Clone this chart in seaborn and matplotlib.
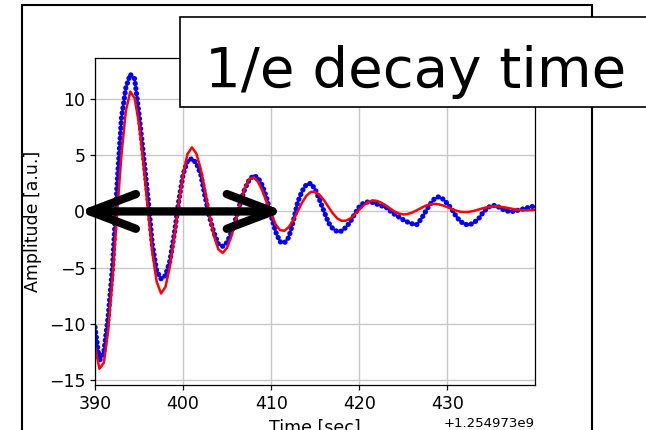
import numpy as np
import pandas as pd
import seaborn as sns
import matplotlib.pyplot as plt
from matplotlib.patches import Rectangle

# time axis: unix seconds, matplotlib shows the offset as +1.254973e9
T0 = 1254973000
t_rel = [390.0, 390.5, 391.0, 391.5, 392.0, 392.5, 393.0, 393.5, 394.0, 394.5,
         395.0, 395.5, 396.0, 396.5, 397.0, 397.5, 398.0, 398.5, 399.0, 399.5,
         400.0, 400.5, 401.0, 401.5, 402.0, 402.5, 403.0, 403.5, 404.0, 404.5,
         405.0, 405.5, 406.0, 406.5, 407.0, 407.5, 408.0, 408.5, 409.0, 409.5,
         410.0, 410.5, 411.0, 411.5, 412.0, 412.5, 413.0, 413.5, 414.0, 414.5,
         415.0, 415.5, 416.0, 416.5, 417.0, 417.5, 418.0, 418.5, 419.0, 419.5,
         420.0, 420.5, 421.0, 421.5, 422.0, 422.5, 423.0, 423.5, 424.0, 424.5,
         425.0, 425.5, 426.0, 426.5, 427.0, 427.5, 428.0, 428.5, 429.0, 429.5,
         430.0, 430.5, 431.0, 431.5, 432.0, 432.5, 433.0, 433.5, 434.0, 434.5,
         435.0, 435.5, 436.0, 436.5, 437.0, 437.5, 438.0, 438.5, 439.0, 439.5,
         440.0]

# measured amplitude (blue dots)
amp_meas = [-10.3, -13.3, -12.5, -9.3, -4.8, 2.3, 8.3, 11.0, 12.2, 11.8,
            8.6, 5.0, 1.3, -2.9, -5.3, -6.0, -5.7, -4.4, -2.0, 0.9,
            3.3, 4.5, 4.7, 4.3, 3.3, 1.3, -0.5, -1.9, -2.9, -3.1,
            -2.75, -1.8, -0.6, 0.8, 2.0, 2.8, 3.2, 3.0, 2.3, 1.15,
            -0.4, -1.8, -2.7, -2.8, -2.3, -0.9, 0.8, 1.8, 2.4, 2.5,
            1.95, 1.0, 0.0, -1.0, -1.55, -1.8, -1.75, -1.4, -0.9, -0.2,
            0.4, 0.75, 0.85, 0.8, 0.65, 0.5, 0.4, 0.05, -0.25, -0.5,
            -0.75, -0.95, -1.1, -1.2, -0.7, -0.05, 0.6, 1.1, 1.3, 1.1,
            0.7, 0.2, -0.45, -0.9, -1.15, -1.2, -1.0, -0.7, -0.15, 0.3,
            0.5, 0.55, 0.3, 0.1, 0.0, 0.0, 0.1, 0.2, 0.3, 0.45,
            0.4]

# damped oscillation fit (red line)
amp_fit = [-12.0, -14.0, -13.47, -10.55, -5.82, -0.22, 5.05, 8.95, 10.66, 10.08,
           7.77, 4.21, 0.15, -3.60, -6.26, -7.30, -6.71, -4.91, -2.27, 0.67,
           3.31, 5.11, 5.70, 5.16, 3.77, 1.81, -0.31, -2.17, -3.37, -3.69,
           -3.22, -2.16, -0.73, 0.79, 2.09, 2.88, 3.03, 2.64, 1.84, 0.80,
           -0.27, -1.15, -1.67, -1.72, -1.39, -0.78, 0.00, 0.78, 1.40, 1.74,
           1.74, 1.47, 0.99, 0.40, -0.18, -0.62, -0.84, -0.82, -0.61, -0.26,
           0.15, 0.55, 0.84, 0.98, 0.94, 0.78, 0.54, 0.26, 0.00, -0.19,
           -0.27, -0.23, -0.10, 0.09, 0.30, 0.50, 0.63, 0.68, 0.64, 0.53,
           0.38, 0.21, 0.07, -0.03, -0.06, -0.03, 0.05, 0.16, 0.28, 0.37,
           0.44, 0.45, 0.42, 0.36, 0.29, 0.21, 0.15, 0.11, 0.10, 0.12,
           0.15]

df = pd.DataFrame({
    "Time [sec]": T0 + np.array(t_rel),
    "meas": amp_meas,
    "fit": amp_fit,
})

sns.set_style("ticks")
plt.rcParams["font.family"] = ["DejaVu Sans"]
plt.rcParams.update({"text.color": "black", "axes.labelcolor": "black",
                     "xtick.color": "black", "ytick.color": "black"})

fig = plt.figure(figsize=(6.46, 4.30), dpi=100)
ax = fig.add_axes([0.1471, 0.1047, 0.6811, 0.7612])

sns.lineplot(data=df, x="Time [sec]", y="meas", color="blue", lw=1.2,
             estimator=None, sort=False, ax=ax)
sns.lineplot(data=df, x="Time [sec]", y="meas", color="blue", lw=3.8,
             linestyle=(0, (0.01, 0.95)), dash_capstyle="round",
             estimator=None, sort=False, ax=ax)
sns.lineplot(data=df, x="Time [sec]", y="fit", color="red", lw=1.8,
             estimator=None, sort=False, ax=ax)

ax.set_xlim(T0 + 390, T0 + 439.95)
ax.set_ylim(-15.44, 13.68)
ax.set_yticks([-15, -10, -5, 0, 5, 10])
ax.grid(True, color="#c8c8c8", lw=1.0)
for s in ax.spines.values():
    s.set_color("black")
    s.set_linewidth(0.9)
ax.tick_params(labelsize=12.5, color="black", length=3.5, width=0.9)
ax.xaxis.get_offset_text().set_fontsize(9.5)
ax.set_xlabel("Time [sec]", fontsize=12.5)
ax.set_ylabel("Amplitude [a.u.]", fontsize=12.5, labelpad=5)

# 1/e decay time arrow
ax.annotate("", xy=(T0 + 388.1, 0), xytext=(T0 + 411.5, 0),
            arrowprops=dict(arrowstyle="<->,head_length=3.3,head_width=1.25",
                            mutation_scale=10, lw=6, color="black",
                            shrinkA=0, shrinkB=0, capstyle="round",
                            joinstyle="round"),
            annotation_clip=False, zorder=10)

# slide frame around the picture
fig.patches.append(Rectangle((22 / 646, -0.1), 570 / 646, 425 / 430 + 0.1,
                             transform=fig.transFigure, fill=False,
                             ec="black", lw=1.5, zorder=0))

# caption box
fig.patches.append(Rectangle((180 / 646, 1 - 107 / 430), 500 / 646, 90 / 430,
                             transform=fig.transFigure, fc="white",
                             ec="black", lw=1.2, zorder=20))
fig.text(205 / 646, 1 - 87 / 430, "1/e decay time", fontsize=40.5,
         color="black", ha="left", va="baseline", zorder=21)

fig.savefig("out.png", dpi=100)
